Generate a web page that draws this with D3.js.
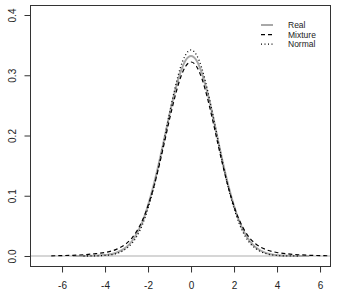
<!DOCTYPE html>
<html>
<head>
<meta charset="utf-8">
<script src="https://cdn.jsdelivr.net/npm/d3@7"></script>
<style>
  body { margin: 0; background: #fff; }
  svg { display: block; font-family: "Liberation Sans", Arial, sans-serif; }
</style>
</head>
<body>
<div id="chart"></div>
<script>
// density estimates
var xReal = [-5.5, -5, -4.5, -4, -3.5, -3, -2.75, -2.5, -2.25, -2, -1.75, -1.5, -1.25, -1, -0.75, -0.5, -0.25, 0,
             0.25, 0.5, 0.75, 1, 1.25, 1.5, 1.75, 2, 2.25, 2.5, 2.75, 3, 3.5, 4, 4.5, 5, 5.5];
var yReal = [0.0000, 0.0001, 0.0004, 0.0015, 0.0050, 0.0150, 0.0245, 0.0385, 0.0575, 0.0840, 0.1160, 0.1530, 0.1935, 0.2350, 0.2730, 0.3040, 0.3250, 0.3320,
             0.3250, 0.3040, 0.2730, 0.2350, 0.1930, 0.1520, 0.1150, 0.0830, 0.0570, 0.0380, 0.0240, 0.0146, 0.0047, 0.0013, 0.0003, 0.0001, 0.0000];

var xMix = [-6.5, -6, -5.5, -5, -4.5, -4, -3.5, -3, -2.75, -2.5, -2.25, -2, -1.75, -1.5, -1.25, -1, -0.75, -0.5, -0.25, 0,
            0.25, 0.5, 0.75, 1, 1.25, 1.5, 1.75, 2, 2.25, 2.5, 2.75, 3, 3.5, 4, 4.5, 5, 5.5, 6, 6.5];
var yMix = [0.0003, 0.0007, 0.0012, 0.0021, 0.0036, 0.0059, 0.0106, 0.0210, 0.0298, 0.0425, 0.0600, 0.0835, 0.1125, 0.1475, 0.1865, 0.2270, 0.2640, 0.2950, 0.3150, 0.3220,
            0.3150, 0.2950, 0.2640, 0.2265, 0.1860, 0.1470, 0.1120, 0.0825, 0.0592, 0.0418, 0.0290, 0.0203, 0.0105, 0.0058, 0.0035, 0.0021, 0.0012, 0.0007, 0.0003];

var xNorm = [-5, -4.5, -4, -3.5, -3, -2.75, -2.5, -2.25, -2, -1.75, -1.5, -1.25, -1, -0.75, -0.5, -0.25, 0,
             0.25, 0.5, 0.75, 1, 1.25, 1.5, 1.75, 2, 2.25, 2.5, 2.75, 3, 3.5, 4, 4.5, 5];
var yNorm = [0.0000, 0.0002, 0.0010, 0.0038, 0.0126, 0.0210, 0.0340, 0.0530, 0.0790, 0.1110, 0.1500, 0.1930, 0.2370, 0.2780, 0.3120, 0.3340, 0.3420,
             0.3340, 0.3120, 0.2780, 0.2370, 0.1930, 0.1500, 0.1110, 0.0790, 0.0530, 0.0340, 0.0210, 0.0126, 0.0038, 0.0010, 0.0002, 0.0000];

var xTicks = [-6, -4, -2, 0, 2, 4, 6];
var yTicks = [0.0, 0.1, 0.2, 0.3, 0.4];
var legendLabels = ["Real", "Mixture", "Normal"];

var width = 339, height = 297;
var margin = { left: 30, right: 331, top: 5, bottom: 266 };

var svg = d3.select("#chart").append("svg")
    .attr("width", width)
    .attr("height", height);

var x = d3.scaleLinear().domain([-7.49, 6.51]).range([margin.left, margin.right]);
var y = d3.scaleLinear().domain([-0.0166, 0.4166]).range([margin.bottom, margin.top]);

// zero reference line
svg.append("line")
    .attr("x1", margin.left).attr("x2", margin.right)
    .attr("y1", y(0)).attr("y2", y(0))
    .attr("stroke", "#d6d6d6")
    .attr("stroke-width", 2);

var line = d3.line()
    .x(d => x(d[0]))
    .y(d => y(d[1]))
    .curve(d3.curveMonotoneX);

var series = [
    { xs: xReal, ys: yReal, stroke: "#a8a8a8", width: 2, dash: null },
    { xs: xMix, ys: yMix, stroke: "#000", width: 1.2, dash: "4,3" },
    { xs: xNorm, ys: yNorm, stroke: "#000", width: 1.3, dash: "1,2.5" }
];

series.forEach(function(s) {
    svg.append("path")
        .datum(s.xs.map((v, i) => [v, s.ys[i]]))
        .attr("d", line)
        .attr("fill", "none")
        .attr("stroke", s.stroke)
        .attr("stroke-width", s.width)
        .attr("stroke-dasharray", s.dash);
});

// box
svg.append("rect")
    .attr("x", margin.left + 0.5).attr("y", margin.top + 0.5)
    .attr("width", margin.right - margin.left - 1).attr("height", margin.bottom - margin.top)
    .attr("fill", "none")
    .attr("stroke", "#333");

// x axis
var xAxis = svg.append("g")
    .attr("transform", `translate(0,${margin.bottom + 0.5})`)
    .call(d3.axisBottom(x).tickValues(xTicks).tickSize(6).tickPadding(9).tickFormat(d => String(d)));
xAxis.select(".domain")
    .attr("d", `M${x(-6)},0H${x(6)}`)
    .attr("stroke", "#333");

// y axis
var yAxis = svg.append("g")
    .attr("transform", `translate(${margin.left + 0.5},0)`)
    .call(d3.axisLeft(y).tickValues(yTicks).tickSize(6).tickFormat(d3.format(".1f")));
yAxis.select(".domain")
    .attr("d", `M0,${y(0)}V${y(0.4)}`)
    .attr("stroke", "#333");
yAxis.selectAll(".tick text")
    .attr("x", 0).attr("dy", null)
    .attr("text-anchor", "middle")
    .attr("transform", "translate(-15,0) rotate(-90)");

svg.selectAll(".tick line").attr("stroke", "#333");
svg.selectAll(".tick text")
    .attr("fill", "#222")
    .style("font-size", "10px")
    .style("font-family", "Liberation Sans, Arial, sans-serif");

// legend
var legend = svg.append("g").attr("id", "legend");
legendLabels.forEach(function(label, i) {
    var s = series[i];
    var ly = 25 + i * 9.6;
    legend.append("line")
        .attr("x1", 261).attr("x2", 273)
        .attr("y1", ly).attr("y2", ly)
        .attr("stroke", s.stroke)
        .attr("stroke-width", s.width)
        .attr("stroke-dasharray", s.dash);
    legend.append("text")
        .attr("x", 288).attr("y", ly + 3)
        .attr("fill", "#222")
        .style("font-size", "8.5px")
        .text(label);
});
</script>
</body>
</html>
